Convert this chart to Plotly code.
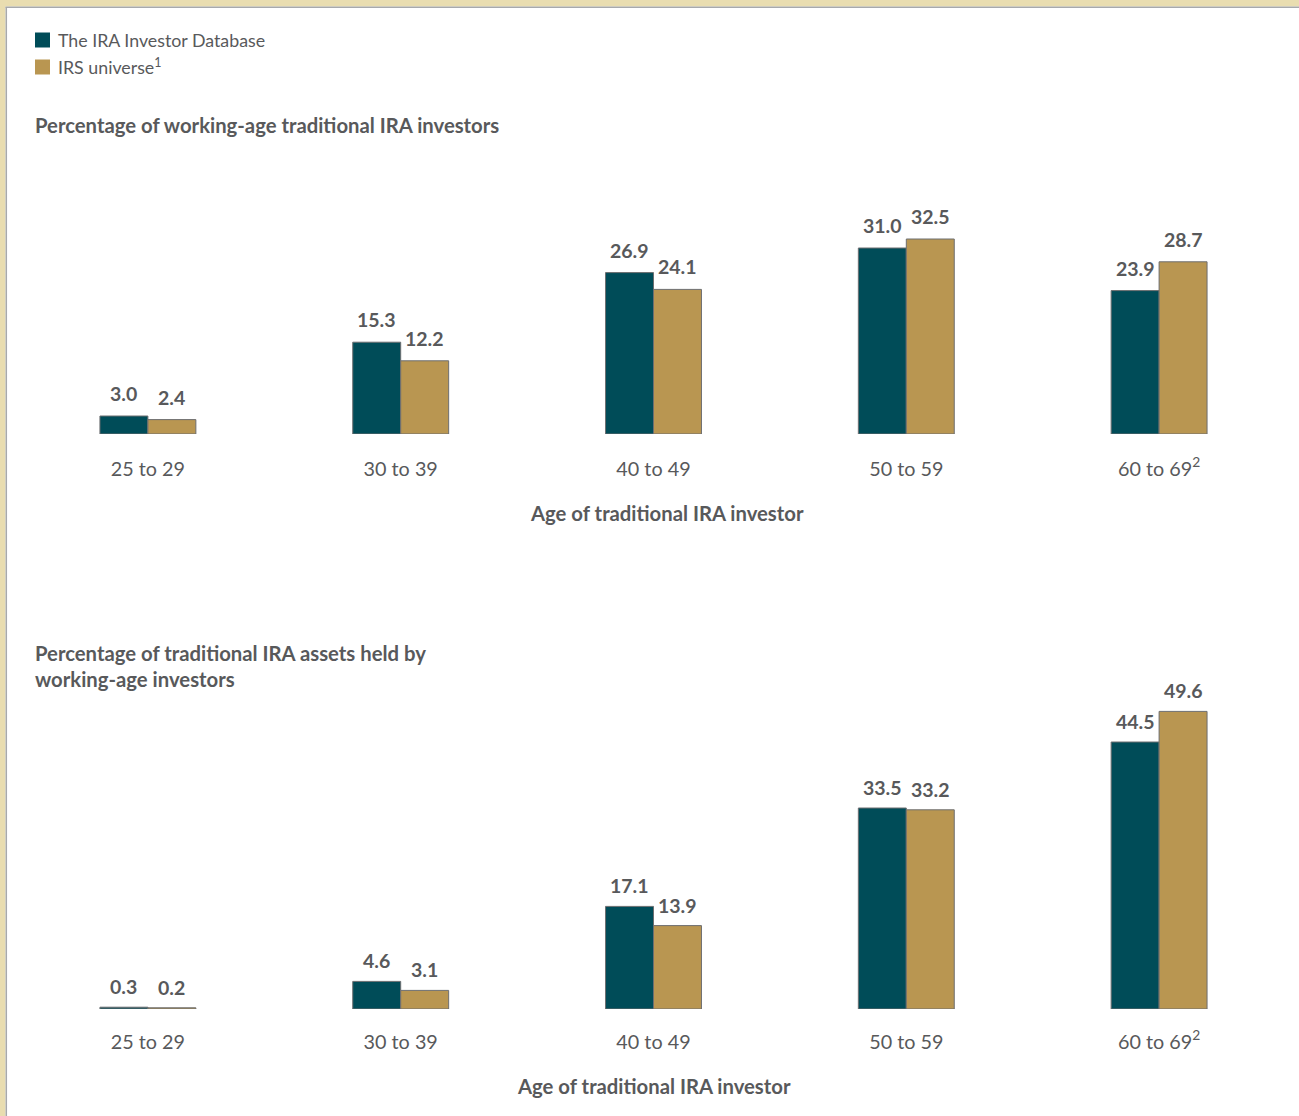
import plotly.graph_objects as go

# Age bands shared by both panels
age_groups = ["25 to 29", "30 to 39", "40 to 49", "50 to 59", "60 to 69"]
age_tick_text = ["25 to 29", "30 to 39", "40 to 49", "50 to 59", "60 to 69<sup>2</sup>"]

# Percentage of working-age traditional IRA investors
investors_db = [3.0, 15.3, 26.9, 31.0, 23.9]
investors_irs = [2.4, 12.2, 24.1, 32.5, 28.7]

# Percentage of traditional IRA assets held by working-age investors
assets_db = [0.3, 4.6, 17.1, 33.5, 44.5]
assets_irs = [0.2, 3.1, 13.9, 33.2, 49.6]

series_names = ["The IRA Investor Database", "IRS universe<sup>1</sup>"]

W, H = 1299, 1116
TEAL = "#004C58"
GOLD = "#B99651"
TEXT = "#58595B"
FRAME = "#E9DDB0"
FONT = "Lato"


def px_x(x):
    return x / W


def px_y(y):
    return 1 - y / H


fig = go.Figure()

panels = [
    ("x", "y", investors_db, investors_irs, 9),
    ("x2", "y2", assets_db, assets_irs, 7),
]

for xa, ya, db_vals, irs_vals, lift in panels:
    for vals, color in ((db_vals, TEAL), (irs_vals, GOLD)):
        fig.add_trace(go.Bar(
            x=age_groups, y=vals, xaxis=xa, yaxis=ya,
            marker=dict(color=color, line=dict(color="#6D6E70", width=1)),
            showlegend=False, hoverinfo="skip",
        ))
    # value labels above each bar
    for vals, shift in ((db_vals, -24), (irs_vals, 24)):
        for cat, v in zip(age_groups, vals):
            fig.add_annotation(
                x=cat, y=v, xref=xa, yref=ya, text=f"{v:.1f}",
                showarrow=False, yanchor="bottom", xshift=shift, yshift=lift,
                font=dict(family=FONT, size=19.5, color=TEXT, weight="bold"),
            )

x_dom = [px_x(21.5), px_x(1285.5)]
axis_common = dict(
    type="category", categoryorder="array", categoryarray=age_groups,
    tickmode="array", tickvals=age_groups, ticktext=age_tick_text,
    showgrid=False, zeroline=False, showline=False, ticks="",
    tickfont=dict(family=FONT, size=19.8, color=TEXT),
    range=[-0.5, 4.5], domain=x_dom,
)
fig.update_layout(
    width=W, height=H,
    margin=dict(l=0, r=0, t=0, b=0),
    paper_bgcolor="white", plot_bgcolor="white",
    barmode="group", bargap=0.6206, bargroupgap=0,
    xaxis=dict(anchor="y", ticklabelstandoff=21, **axis_common),
    xaxis2=dict(anchor="y2", ticklabelstandoff=19, **axis_common),
    yaxis=dict(anchor="x", range=[0, 40], domain=[px_y(434), px_y(194)], visible=False),
    yaxis2=dict(anchor="x2", range=[0, 55], domain=[px_y(1009), px_y(679)], visible=False),
)

# Panel headings and axis titles
heading_font = dict(family=FONT, size=20.3, color=TEXT, weight="bold")
fig.add_annotation(x=px_x(33), y=px_y(125), xref="paper", yref="paper",
                   xanchor="left", yanchor="middle", showarrow=False,
                   text="Percentage of working-age traditional IRA investors", font=heading_font)
fig.add_annotation(x=px_x(33), y=px_y(666), xref="paper", yref="paper",
                   xanchor="left", yanchor="middle", showarrow=False, align="left",
                   text="Percentage of traditional IRA assets held by<br>working-age investors",
                   font=heading_font)
fig.add_annotation(x=px_x(667), y=px_y(513), xref="paper", yref="paper",
                   xanchor="center", yanchor="middle", showarrow=False,
                   text="Age of traditional IRA investor", font=heading_font)
fig.add_annotation(x=px_x(654), y=px_y(1086), xref="paper", yref="paper",
                   xanchor="center", yanchor="middle", showarrow=False,
                   text="Age of traditional IRA investor", font=heading_font)

# Legend swatches
for i, (name, color) in enumerate(zip(series_names, (TEAL, GOLD))):
    cy = 40 + i * 27
    fig.add_shape(type="rect", xref="paper", yref="paper",
                  x0=px_x(35), x1=px_x(50), y0=px_y(cy - 7.5), y1=px_y(cy + 7.5),
                  fillcolor=color, line=dict(width=0))
    fig.add_annotation(x=px_x(56), y=px_y(cy), xref="paper", yref="paper",
                       xanchor="left", yanchor="middle", showarrow=False,
                       text=name, font=dict(family=FONT, size=17.8, color=TEXT))

# Page frame along the top and left edges
fig.add_shape(type="rect", xref="paper", yref="paper", layer="above",
              x0=0, x1=1, y0=px_y(6.5), y1=1, fillcolor=FRAME, line=dict(width=0))
fig.add_shape(type="rect", xref="paper", yref="paper", layer="above",
              x0=0, x1=px_x(5.5), y0=0, y1=1, fillcolor=FRAME, line=dict(width=0))
fig.add_shape(type="line", xref="paper", yref="paper", layer="above",
              x0=px_x(5.5), x1=1, y0=px_y(7.2), y1=px_y(7.2),
              line=dict(color="#A7A9AC", width=1.5))
fig.add_shape(type="line", xref="paper", yref="paper", layer="above",
              x0=px_x(6.3), x1=px_x(6.3), y0=0, y1=px_y(7.2),
              line=dict(color="#A7A9AC", width=1.5))

fig.write_html("out.html")
